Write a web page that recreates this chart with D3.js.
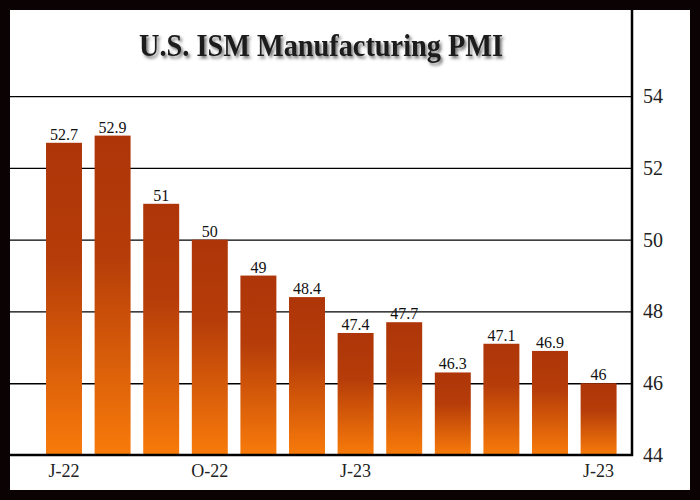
<!DOCTYPE html>
<html>
<head>
<meta charset="utf-8">
<script src="https://cdn.jsdelivr.net/npm/d3@7"></script>
<style>
  html, body { margin: 0; padding: 0; background: #fff; }
  svg { display: block; }
</style>
</head>
<body>
<svg id="chart" width="700" height="500"></svg>
<script>
// ---- data ----
const months = ["Jul-22","Aug-22","Sep-22","Oct-22","Nov-22","Dec-22","Jan-23","Feb-23","Mar-23","Apr-23","May-23","Jun-23"];
const pmiValues = [52.7, 52.9, 51, 50, 49, 48.4, 47.4, 47.7, 46.3, 47.1, 46.9, 46];
const xTickLabels = ["J-22","","","O-22","","","J-23","","","","","J-23"];
const yTicks = [44, 46, 48, 50, 52, 54];
const title = "U.S. ISM Manufacturing PMI";

// ---- layout ----
const W = 700, H = 500;
const frame = 10;
const plotLeft = 10, plotRight = 632, plotTop = 10, plotBottom = 455;

const svg = d3.select("#chart");

const defs = svg.append("defs");
const grad = defs.append("linearGradient")
  .attr("id", "barGrad").attr("x1", 0).attr("y1", 0).attr("x2", 0).attr("y2", 1);
grad.append("stop").attr("offset", "0%").attr("stop-color", "#ad3508");
grad.append("stop").attr("offset", "38%").attr("stop-color", "#b63d09");
grad.append("stop").attr("offset", "100%").attr("stop-color", "#f87b0a");

const shadow = defs.append("filter").attr("id", "tshadow")
  .attr("x", "-10%").attr("y", "-30%").attr("width", "120%").attr("height", "160%");
shadow.append("feDropShadow").attr("dx", 2).attr("dy", 2.5).attr("stdDeviation", 1.5)
  .attr("flood-color", "#444").attr("flood-opacity", 0.75);

// frame
svg.append("rect").attr("width", W).attr("height", H).attr("fill", "#0b0204");
svg.append("rect").attr("x", frame).attr("y", frame)
  .attr("width", W - 2 * frame).attr("height", H - 2 * frame).attr("fill", "#fff");

// scales
const y = d3.scaleLinear().domain([44, 56.4]).range([plotBottom, plotTop]);
const x = d3.scaleBand().domain(months).range([39.7, 622.9]).paddingInner(0.26).paddingOuter(0.13);

// gridlines
svg.append("g")
  .attr("transform", `translate(${plotRight},0)`)
  .call(d3.axisRight(y).tickValues(yTicks.filter(t => t !== 44)).tickSize(-(plotRight - plotLeft)).tickFormat(""))
  .call(g => g.select(".domain").remove())
  .call(g => g.selectAll("line").attr("stroke", "#000").attr("stroke-width", 1.3));

// bars
svg.append("g").selectAll("rect")
  .data(pmiValues)
  .join("rect")
  .attr("x", (d, i) => x(months[i]))
  .attr("y", d => y(d))
  .attr("width", x.bandwidth())
  .attr("height", d => y(44) - y(d))
  .attr("fill", "url(#barGrad)");

// value labels
svg.append("g").selectAll("text")
  .data(pmiValues)
  .join("text")
  .attr("x", (d, i) => x(months[i]) + x.bandwidth() / 2)
  .attr("y", d => y(d) - 3)
  .attr("text-anchor", "middle")
  .attr("font-family", "'Liberation Serif', serif")
  .attr("font-size", 16)
  .attr("fill", "#111")
  .text(d => String(d));

// right axis labels
svg.append("g")
  .attr("transform", `translate(${plotRight},0)`)
  .call(d3.axisRight(y).tickValues(yTicks).tickSize(0).tickPadding(11).tickFormat(d3.format("d")))
  .call(g => g.select(".domain").remove())
  .call(g => g.selectAll("text")
    .attr("font-family", "'Liberation Serif', serif")
    .attr("font-size", 20)
    .attr("fill", "#222"));

// bottom axis labels
svg.append("g")
  .attr("transform", `translate(0,${plotBottom})`)
  .call(d3.axisBottom(x).tickSize(0).tickPadding(9).tickFormat((d, i) => xTickLabels[i]))
  .call(g => g.select(".domain").remove())
  .call(g => g.selectAll("text")
    .attr("font-family", "'Liberation Serif', serif")
    .attr("font-size", 18)
    .attr("fill", "#222"));

// plot border lines (bottom + right)
svg.append("line").attr("x1", plotLeft).attr("x2", plotRight + 1)
  .attr("y1", plotBottom).attr("y2", plotBottom)
  .attr("stroke", "#000").attr("stroke-width", 2.5);
svg.append("line").attr("x1", plotRight).attr("x2", plotRight)
  .attr("y1", plotTop).attr("y2", plotBottom + 1)
  .attr("stroke", "#000").attr("stroke-width", 2.5);

// title
svg.append("text")
  .attr("x", (plotLeft + plotRight) / 2)
  .attr("y", 56)
  .attr("text-anchor", "middle")
  .attr("font-family", "'Liberation Serif', serif")
  .attr("font-weight", "bold")
  .attr("font-size", 31)
  .attr("fill", "#1a1a1a")
  .attr("textLength", 364)
  .attr("lengthAdjust", "spacingAndGlyphs")
  .attr("filter", "url(#tshadow)")
  .text(title);
</script>
</body>
</html>
